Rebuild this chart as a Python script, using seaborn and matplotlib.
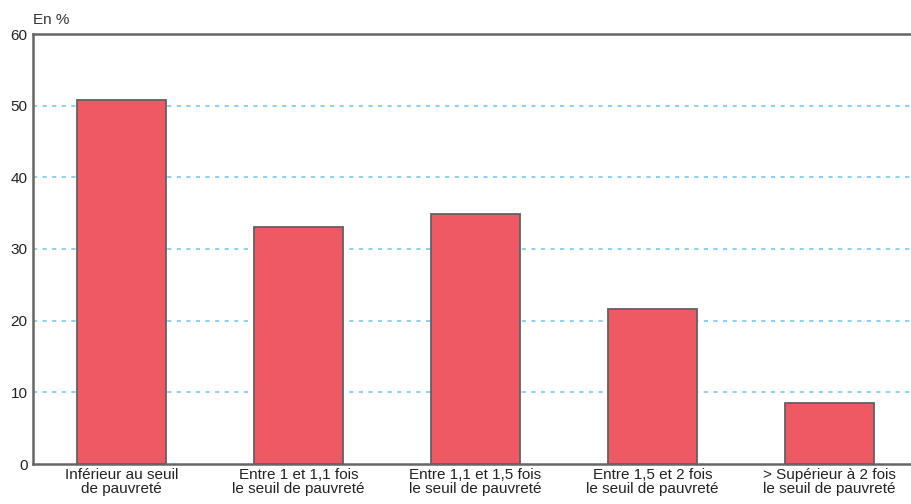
import matplotlib
matplotlib.use("Agg")
import matplotlib.pyplot as plt
import seaborn as sns
import pandas as pd

categories = [
    "Inférieur au seuil\nde pauvreté",
    "Entre 1 et 1,1 fois\nle seuil de pauvreté",
    "Entre 1,1 et 1,5 fois\nle seuil de pauvreté",
    "Entre 1,5 et 2 fois\nle seuil de pauvreté",
    "> Supérieur à 2 fois\nle seuil de pauvreté",
]
values = [50.8, 33.1, 34.9, 21.6, 8.5]
yticks = [0, 10, 20, 30, 40, 50, 60]

sns.set_theme(style="white")
plt.rcParams["font.family"] = ["Liberation Sans", "DejaVu Sans"]

df = pd.DataFrame({"cat": categories, "val": values})

fig = plt.figure(figsize=(9.11, 5.04), dpi=100)
ax = fig.add_axes([33 / 911, 40 / 504, 1 - 33 / 911, 430 / 504])

for y in [10, 20, 30, 40, 50]:
    ax.axhline(y, color="#92d0ee", linestyle=(0, (2.0, 2.6)), linewidth=1.5, zorder=0)

sns.barplot(data=df, x="cat", y="val", color="#ef5963", saturation=1,
            edgecolor="#616161", linewidth=1.3, width=0.5, ax=ax, zorder=2)

ax.set_xlim(-0.5, 4.46)
ax.set_ylim(0, 60)
ax.set_yticks(yticks)
ax.set_yticklabels([str(v) for v in yticks])
ax.set_xlabel("")
ax.set_ylabel("")
ax.tick_params(axis="both", length=0, labelsize=11, colors="#222222", pad=4)
ax.tick_params(axis="x", pad=3)
for lbl in ax.get_xticklabels():
    lbl.set_linespacing(0.95)

for side in ["left", "top", "bottom"]:
    ax.spines[side].set_color("#666666")
    ax.spines[side].set_linewidth(1.8)
ax.spines["right"].set_visible(False)

fig.text(33 / 911, 1 - 20 / 504, "En %", fontsize=11, color="#333333", va="center", ha="left")

fig.savefig("out.png", dpi=100)
